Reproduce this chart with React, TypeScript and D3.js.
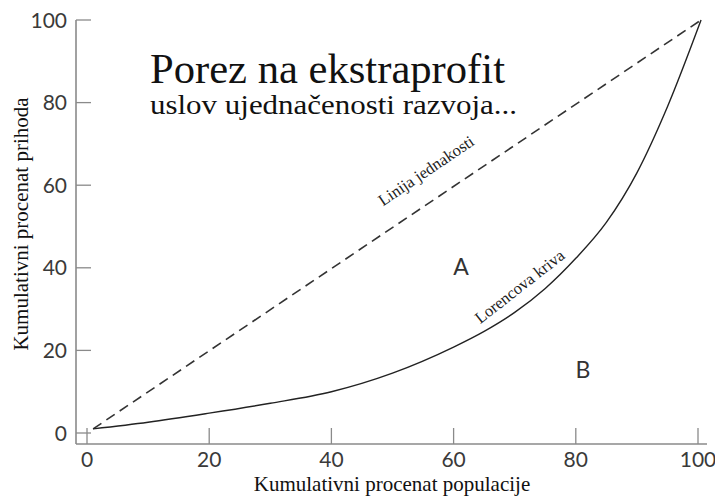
import { useRef, useEffect } from "react";
import * as d3 from "d3";

// Lorenz curve readings (cumulative % population -> cumulative % income)
const popShare = [1, 10, 20, 30, 40, 50, 60, 65, 70, 75, 80, 85, 90, 95, 100.5];
const incomeShare = [1, 2.6, 4.8, 7.2, 10, 14.5, 20.8, 24.6, 29.2, 35, 42.3, 51, 63, 79, 100];

// line of equality endpoints
const equalX = [1, 100.5];
const equalY = [1, 100];

const tickValues = [0, 20, 40, 60, 80, 100];

const titleText = "Porez na ekstraprofit";
const subtitleText = "uslov ujednačenosti razvoja...";
const xLabel = "Kumulativni procenat populacije";
const yLabel = "Kumulativni procenat prihoda";

const width = 715;
const height = 497;

const Chart = () => {
  const svgRef = useRef<SVGSVGElement>(null);

  const drawChart = () => {
    const svg = d3.select(svgRef.current);
    svg.selectAll("*").remove();

    const x = d3.scaleLinear().domain([0, 100]).range([87, 698]);
    const y = d3.scaleLinear().domain([0, 100]).range([433, 20]);

    const axisColor = "#8a8a8a";
    const tickFont = "Lato, 'DejaVu Sans', sans-serif";
    const serif = "'Liberation Serif', 'DejaVu Serif', serif";

    // axis lines
    svg
      .append("line")
      .attr("x1", 76)
      .attr("x2", 76)
      .attr("y1", y(100))
      .attr("y2", 444)
      .attr("stroke", axisColor)
      .attr("stroke-width", 1.6);
    svg
      .append("line")
      .attr("x1", 76)
      .attr("x2", 707)
      .attr("y1", 444)
      .attr("y2", 444)
      .attr("stroke", axisColor)
      .attr("stroke-width", 1.6);

    // y ticks (inward)
    svg
      .selectAll(".ytick")
      .data(tickValues)
      .enter()
      .append("line")
      .attr("x1", 76)
      .attr("x2", 91)
      .attr("y1", (d) => y(d))
      .attr("y2", (d) => y(d))
      .attr("stroke", axisColor)
      .attr("stroke-width", 1.3);

    svg
      .selectAll(".ylab")
      .data(tickValues)
      .enter()
      .append("text")
      .attr("x", 67)
      .attr("y", (d) => y(d))
      .attr("dy", "0.36em")
      .attr("text-anchor", "end")
      .attr("font-family", tickFont)
      .attr("font-size", 21)
      .attr("fill", "#3a3a3a")
      .text((d) => d);

    // x ticks (inward)
    svg
      .selectAll(".xtick")
      .data(tickValues)
      .enter()
      .append("line")
      .attr("x1", (d) => x(d))
      .attr("x2", (d) => x(d))
      .attr("y1", 444)
      .attr("y2", 428)
      .attr("stroke", axisColor)
      .attr("stroke-width", 1.3);

    svg
      .selectAll(".xlab")
      .data(tickValues)
      .enter()
      .append("text")
      .attr("x", (d) => x(d))
      .attr("y", 467)
      .attr("text-anchor", "middle")
      .attr("font-family", tickFont)
      .attr("font-size", 21)
      .attr("fill", "#3a3a3a")
      .text((d) => d);

    // equality line
    const eqData = equalX.map((v, i) => [v, equalY[i]] as [number, number]);
    svg
      .append("path")
      .datum(eqData)
      .attr("d", d3.line<[number, number]>().x((d) => x(d[0])).y((d) => y(d[1])))
      .attr("fill", "none")
      .attr("stroke", "#333")
      .attr("stroke-width", 1.6)
      .attr("stroke-dasharray", "10,6");

    // Lorenz curve
    const lorenz = popShare.map((v, i) => [v, incomeShare[i]] as [number, number]);
    svg
      .append("path")
      .datum(lorenz)
      .attr(
        "d",
        d3
          .line<[number, number]>()
          .x((d) => x(d[0]))
          .y((d) => y(d[1]))
          .curve(d3.curveMonotoneX)
      )
      .attr("fill", "none")
      .attr("stroke", "#222")
      .attr("stroke-width", 1.4);

    // curve labels
    svg
      .append("text")
      .attr("transform", "translate(431,178) rotate(-34)")
      .attr("text-anchor", "middle")
      .attr("dy", "-0.2em")
      .attr("font-family", serif)
      .attr("font-size", 16.5)
      .attr("fill", "#222")
      .text("Linija jednakosti");

    svg
      .append("text")
      .attr("transform", "translate(520,287) rotate(-38)")
      .attr("text-anchor", "middle")
      .attr("dy", "0.3em")
      .attr("font-family", serif)
      .attr("font-size", 16.5)
      .attr("fill", "#222")
      .text("Lorencova kriva");

    svg
      .append("text")
      .attr("x", 461)
      .attr("y", 275)
      .attr("text-anchor", "middle")
      .attr("font-family", tickFont)
      .attr("font-size", 23)
      .attr("fill", "#333")
      .text("A");

    svg
      .append("text")
      .attr("x", 583)
      .attr("y", 378)
      .attr("text-anchor", "middle")
      .attr("font-family", tickFont)
      .attr("font-size", 23)
      .attr("fill", "#333")
      .text("B");

    // title block
    svg
      .append("text")
      .attr("x", 150)
      .attr("y", 83)
      .attr("font-family", serif)
      .attr("font-size", 43)
      .attr("textLength", 355)
      .attr("lengthAdjust", "spacingAndGlyphs")
      .attr("fill", "#111")
      .text(titleText);

    svg
      .append("text")
      .attr("x", 150)
      .attr("y", 114)
      .attr("font-family", serif)
      .attr("font-size", 28)
      .attr("textLength", 367)
      .attr("lengthAdjust", "spacingAndGlyphs")
      .attr("fill", "#111")
      .text(subtitleText);

    // axis titles
    svg
      .append("text")
      .attr("x", 392)
      .attr("y", 491)
      .attr("text-anchor", "middle")
      .attr("font-family", serif)
      .attr("font-size", 21)
      .attr("fill", "#111")
      .text(xLabel);

    svg
      .append("text")
      .attr("transform", "translate(28,224) rotate(-90)")
      .attr("text-anchor", "middle")
      .attr("font-family", serif)
      .attr("font-size", 21)
      .attr("fill", "#111")
      .text(yLabel);
  };

  useEffect(() => {
    drawChart();
  }, []);

  return (
    <svg
      ref={svgRef}
      width={width}
      height={height}
      style={{ position: "absolute", left: 0, top: 0, background: "#fff" }}
    />
  );
};

export default function App() {
  return <Chart />;
}
